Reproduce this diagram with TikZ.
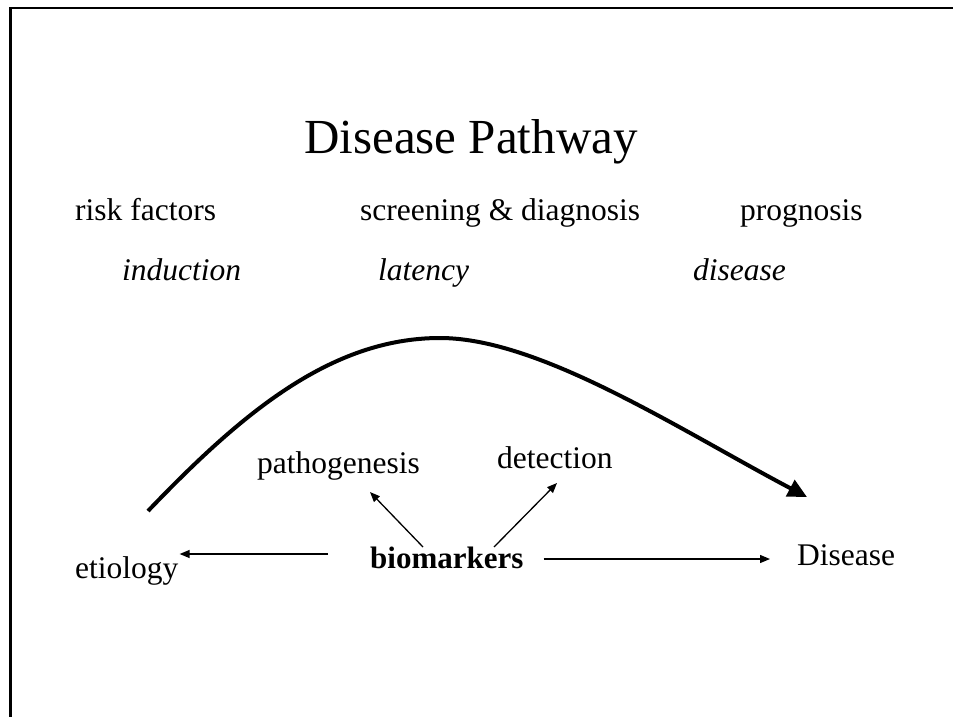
\documentclass[tikz,border=0pt]{standalone}
\usepackage{fontspec}
\setmainfont{Liberation Serif}
\usetikzlibrary{arrows.meta}
\begin{document}
\begin{tikzpicture}[x=1pt,y=-1pt,
  lbl/.style={inner sep=0pt,anchor=base west,font=\fontsize{31.5}{36}\selectfont},
  ilbl/.style={lbl,font=\fontsize{31.5}{36}\selectfont\itshape},
  blbl/.style={lbl,font=\fontsize{31}{36}\selectfont\bfseries},
  ttl/.style={inner sep=0pt,anchor=base,font=\fontsize{49}{56}\selectfont},
  thinarr/.style={line width=1.3pt,-{Triangle[length=10pt,width=8pt]}},
  bigarr/.style={line width=4pt,-{Triangle[length=19pt,width=18pt]}},
  frame/.style={line width=2.5pt}]
\useasboundingbox (0,0) rectangle (953,717);
% frame
\coordinate (ftl) at (10.5,8);
\coordinate (ftr) at (953,8);
\coordinate (fbl) at (10.5,717);
\draw[frame] (ftr) -- (ftl) -- (fbl);
% title
\node[ttl] (title) at (471,153) {Disease Pathway};
% top rows
\node[lbl] (risk) at (75,220) {risk factors};
\node[lbl] (screen) at (360,220) {screening \& diagnosis};
\node[lbl] (prog) at (740,220) {prognosis};
\node[ilbl] (ind) at (122,280) {induction};
\node[ilbl] (lat) at (378,280) {latency};
\node[ilbl] (dis) at (693,280) {disease};
% curve
\coordinate (cstart) at (148,511);
\coordinate (cpeak) at (440,338);
\coordinate (cend) at (807,497);
\draw[bigarr] (cstart) .. controls (240,415) and (330,338) .. (cpeak)
  .. controls (540,338) and (680,430) .. (cend);
% lower labels
\node[lbl] (path) at (257,473) {pathogenesis};
\node[lbl] (det) at (497,468) {detection};
\node[blbl] (bio) at (370,568) {biomarkers};
\node[lbl] (etio) at (75,578) {etiology};
\node[lbl] (Dis) at (797,565) {Disease};
% connectors
\draw[thinarr] ([xshift=-42pt,yshift=14pt]bio.base west) -- ([xshift=1pt,yshift=24pt]etio.base east);
\draw[thinarr] ([xshift=20pt,yshift=9pt]bio.base east) -- ([xshift=-27pt,yshift=6pt]Dis.base west);
\draw[thinarr] ([xshift=53pt,yshift=21pt]bio.base west) -- ([xshift=113pt,yshift=-19pt]path.base west);
\draw[thinarr] ([xshift=124pt,yshift=21pt]bio.base west) -- ([xshift=60pt,yshift=-15pt]det.base west);
\end{tikzpicture}
\end{document}
